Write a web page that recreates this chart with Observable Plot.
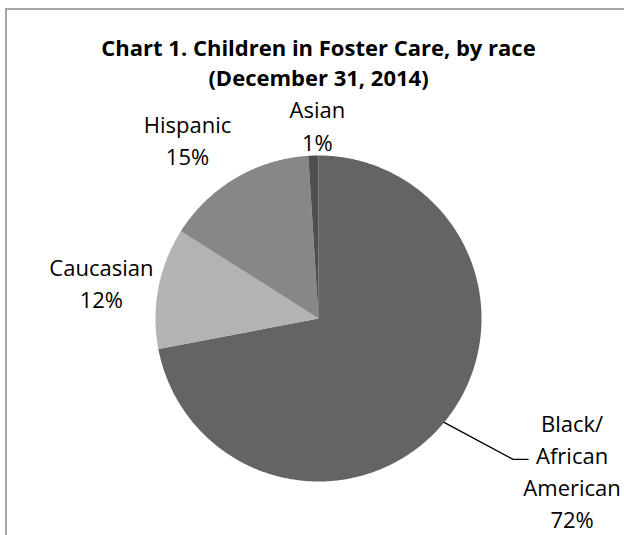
<!DOCTYPE html>
<html>
<head>
<meta charset="utf-8">
<script src="https://cdn.jsdelivr.net/npm/d3@7"></script>
<script src="https://cdn.jsdelivr.net/npm/@observablehq/plot@0.6"></script>
<style>
  html, body { margin: 0; padding: 0; background: #fff; }
  #wrap { position: relative; width: 624px; height: 535px; overflow: hidden; }
  #border { position: absolute; left: 5px; top: 8px; width: 700px; height: 600px;
            border-top: 2px solid #a5a5a5; border-left: 2px solid #a5a5a5; box-sizing: border-box; }
  #chart { position: absolute; left: 0; top: 0; }
</style>
</head>
<body>
<div id="wrap"><div id="border"></div><div id="chart"></div></div>
<script>
// ---- data ----
const categories = ["Black/African American", "Caucasian", "Hispanic", "Asian"];
const shares = [72, 12, 15, 1];
const labelNames = ["Black/\nAfrican\nAmerican", "Caucasian", "Hispanic", "Asian"];
const titleLines = ["Chart 1. Children in Foster Care, by race", "(December 31, 2014)"];

// ---- styles / layout ----
const sliceColors = ["#646464", "#b3b3b3", "#878787", "#4f4f4f"];
const W = 624, H = 535, CX = 318, CY = 318, R = 163;
// pixel offsets from each slice's mid-edge point to its label's last baseline
const labelOffsets = [[128, 106], [-57, 20], [-48, -13], [4, -5]];
// leader line (Black slice) bend and end, px from mid-edge point
const leaderPts = [[69, 37], [84, 37]];
const titleBaseline = 85; // px, baseline of last title line

const total = d3.sum(shares);
let cum = 0;
const slices = shares.map((v, i) => {
  const a0 = cum / total * 2 * Math.PI; cum += v;
  const a1 = cum / total * 2 * Math.PI;
  return {name: categories[i], value: v, a0, a1, mid: (a0 + a1) / 2, i};
});
const piePts = slices.flatMap(s => {
  const n = Math.max(2, Math.ceil((s.a1 - s.a0) / (Math.PI / 360)));
  const arr = [{name: s.name, x: 0, y: 0}];
  for (let k = 0; k <= n; k++) {
    const a = s.a0 + (s.a1 - s.a0) * k / n;
    arr.push({name: s.name, x: Math.sin(a), y: Math.cos(a)});
  }
  arr.push({name: s.name, x: 0, y: 0});
  return arr;
});
const labels = slices.map(s => ({
  x: Math.sin(s.mid) + labelOffsets[s.i][0] / R,
  y: Math.cos(s.mid) - labelOffsets[s.i][1] / R,
  text: labelNames[s.i] + "\n" + Math.round(s.value / total * 100) + "%"
}));
const b = slices[0];
const leader = [{x: Math.sin(b.mid), y: Math.cos(b.mid)}].concat(
  leaderPts.map(([dx, dy]) => ({x: Math.sin(b.mid) + dx / R, y: Math.cos(b.mid) - dy / R})));

const chart = Plot.plot({
  width: W, height: H, margin: 0,
  x: {domain: [-1, 1], range: [CX - R, CX + R], axis: null},
  y: {domain: [-1, 1], range: [CY + R, CY - R], axis: null},
  color: {domain: categories, range: sliceColors},
  style: {background: "transparent", overflow: "visible", fontFamily: "Open Sans", color: "#000"},
  marks: [
    Plot.line(piePts, {x: "x", y: "y", z: "name", fill: "name", stroke: null, curve: "linear"}),
    Plot.line(leader, {x: "x", y: "y", stroke: "#000", strokeWidth: 1.3}),
    Plot.text(labels, {x: "x", y: "y", text: "text", lineAnchor: "bottom", lineHeight: 1.46,
      fontSize: 22, fill: "#000", textAnchor: "middle"}),
    Plot.text([titleLines.join("\n")], {x: 0, y: (CY - titleBaseline) / R, text: d => d,
      lineAnchor: "bottom", lineHeight: 1.36, fontSize: 22, fontWeight: "bold", fill: "#000", textAnchor: "middle"})
  ]
});
document.getElementById("chart").appendChild(chart);
</script>
</body>
</html>
